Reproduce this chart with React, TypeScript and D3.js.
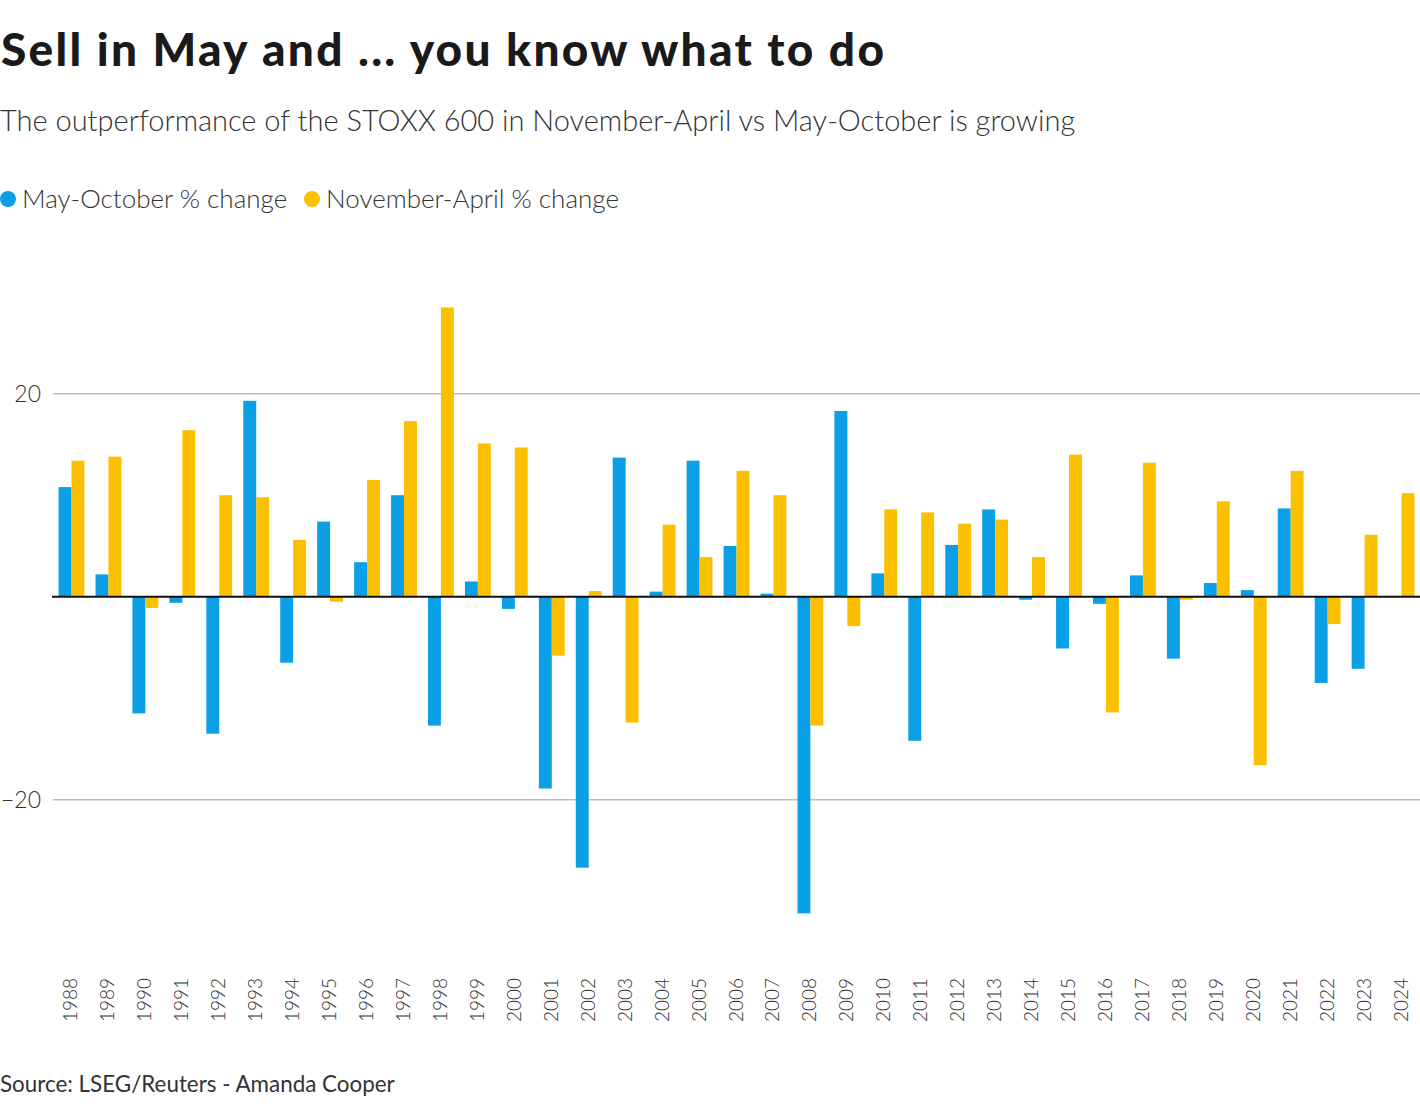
import React from "react";
import * as d3 from "d3";

const years = [
  "1988","1989","1990","1991","1992","1993","1994","1995","1996","1997",
  "1998","1999","2000","2001","2002","2003","2004","2005","2006","2007",
  "2008","2009","2010","2011","2012","2013","2014","2015","2016","2017",
  "2018","2019","2020","2021","2022","2023","2024",
];
const mayOct = [
  10.8, 2.2, -11.5, -0.6, -13.5, 19.3, -6.5, 7.4, 3.4, 10.0,
  -12.7, 1.5, -1.2, -18.9, -26.7, 13.7, 0.5, 13.4, 5.0, 0.3,
  -31.2, 18.3, 2.3, -14.2, 5.1, 8.6, -0.3, -5.1, -0.7, 2.1,
  -6.1, 1.35, 0.65, 8.7, -8.5, -7.1, 0,
];
const novApr = [
  13.4, 13.8, -1.1, 16.4, 10.0, 9.8, 5.6, -0.5, 11.5, 17.3,
  28.5, 15.1, 14.7, -5.8, 0.55, -12.4, 7.1, 3.9, 12.4, 10.0,
  -12.7, -2.9, 8.6, 8.3, 7.2, 7.6, 3.9, 14.0, -11.4, 13.2,
  -0.3, 9.4, -16.6, 12.4, -2.7, 6.1, 10.2,
];
const seriesNames = ["May-October % change", "November-April % change"];
const seriesColors = ["#0ba0e6", "#fbc000"];
const yTicks = [-20, 20];

const W = 1420;
const H = 1104;
const FONT = "Lato, 'Noto Sans', sans-serif";

export default function App() {
  const x = d3.scaleBand<string>().domain(years).range([53, 1420]).paddingInner(0.3).paddingOuter(0.15);
  const sub = d3.scaleBand<number>().domain([0, 1]).range([0, x.bandwidth()]);
  const y = d3.scaleLinear().domain([-20, 20]).range([799.7, 393.7]);
  const series = [mayOct, novApr];
  const fmt = (v: number) => (v < 0 ? "\u2212" + Math.abs(v) : String(v));

  return (
    <div>
      <style>{`body{margin:0}`}</style>
      <svg width={W} height={H} style={{ display: "block", background: "#fff" }}>
        <text x={1} y={66} fontFamily={FONT} fontWeight={900} fontSize={46} fill="#1a1a1a"
          textLength={883} lengthAdjust="spacing">
          Sell in May and ... you know what to do
        </text>
        <text x={0} y={131} fontFamily={FONT} fontWeight={300} fontSize={29} fill="#333">
          The outperformance of the STOXX 600 in November-April vs May-October is growing
        </text>
        {seriesNames.map((n, i) => {
          const lx = i === 0 ? 0 : 304;
          return (
            <g key={n}>
              <circle cx={lx + 8} cy={199} r={8} fill={seriesColors[i]} />
              <text x={lx + 22} y={208} fontFamily={FONT} fontWeight={300} fontSize={26} fill="#333">
                {n}
              </text>
            </g>
          );
        })}
        {yTicks.map((t) => (
          <g key={t}>
            <line x1={53} x2={1420} y1={y(t)} y2={y(t)} stroke="#bdbdbd" strokeWidth={1.5} />
            <text x={41} y={y(t) + 8} textAnchor="end" fontFamily={FONT} fontWeight={300} fontSize={23} fill="#333">
              {fmt(t)}
            </text>
          </g>
        ))}
        {years.map((yr, i) => (
          <g key={yr}>
            {series.map((s, k) => {
              const v = s[i];
              const y0 = y(0);
              const yv = y(v);
              return (
                <rect
                  key={k}
                  x={(x(yr) as number) + (sub(k) as number)}
                  y={Math.min(y0, yv)}
                  width={sub.bandwidth()}
                  height={Math.abs(yv - y0)}
                  fill={seriesColors[k]}
                />
              );
            })}
            <text
              transform={`translate(${(x(yr) as number) + x.bandwidth() / 2 + 6},978) rotate(-90)`}
              textAnchor="end"
              fontFamily={FONT}
              fontWeight={300}
              fontSize={19}
              fill="#333"
            >
              {yr}
            </text>
          </g>
        ))}
        <line x1={52} x2={1420} y1={y(0)} y2={y(0)} stroke="#111" strokeWidth={2} />
        <text x={0} y={1092} fontFamily={FONT} fontWeight={400} fontSize={22.4} fill="#333">
          Source: LSEG/Reuters - Amanda Cooper
        </text>
      </svg>
    </div>
  );
}
